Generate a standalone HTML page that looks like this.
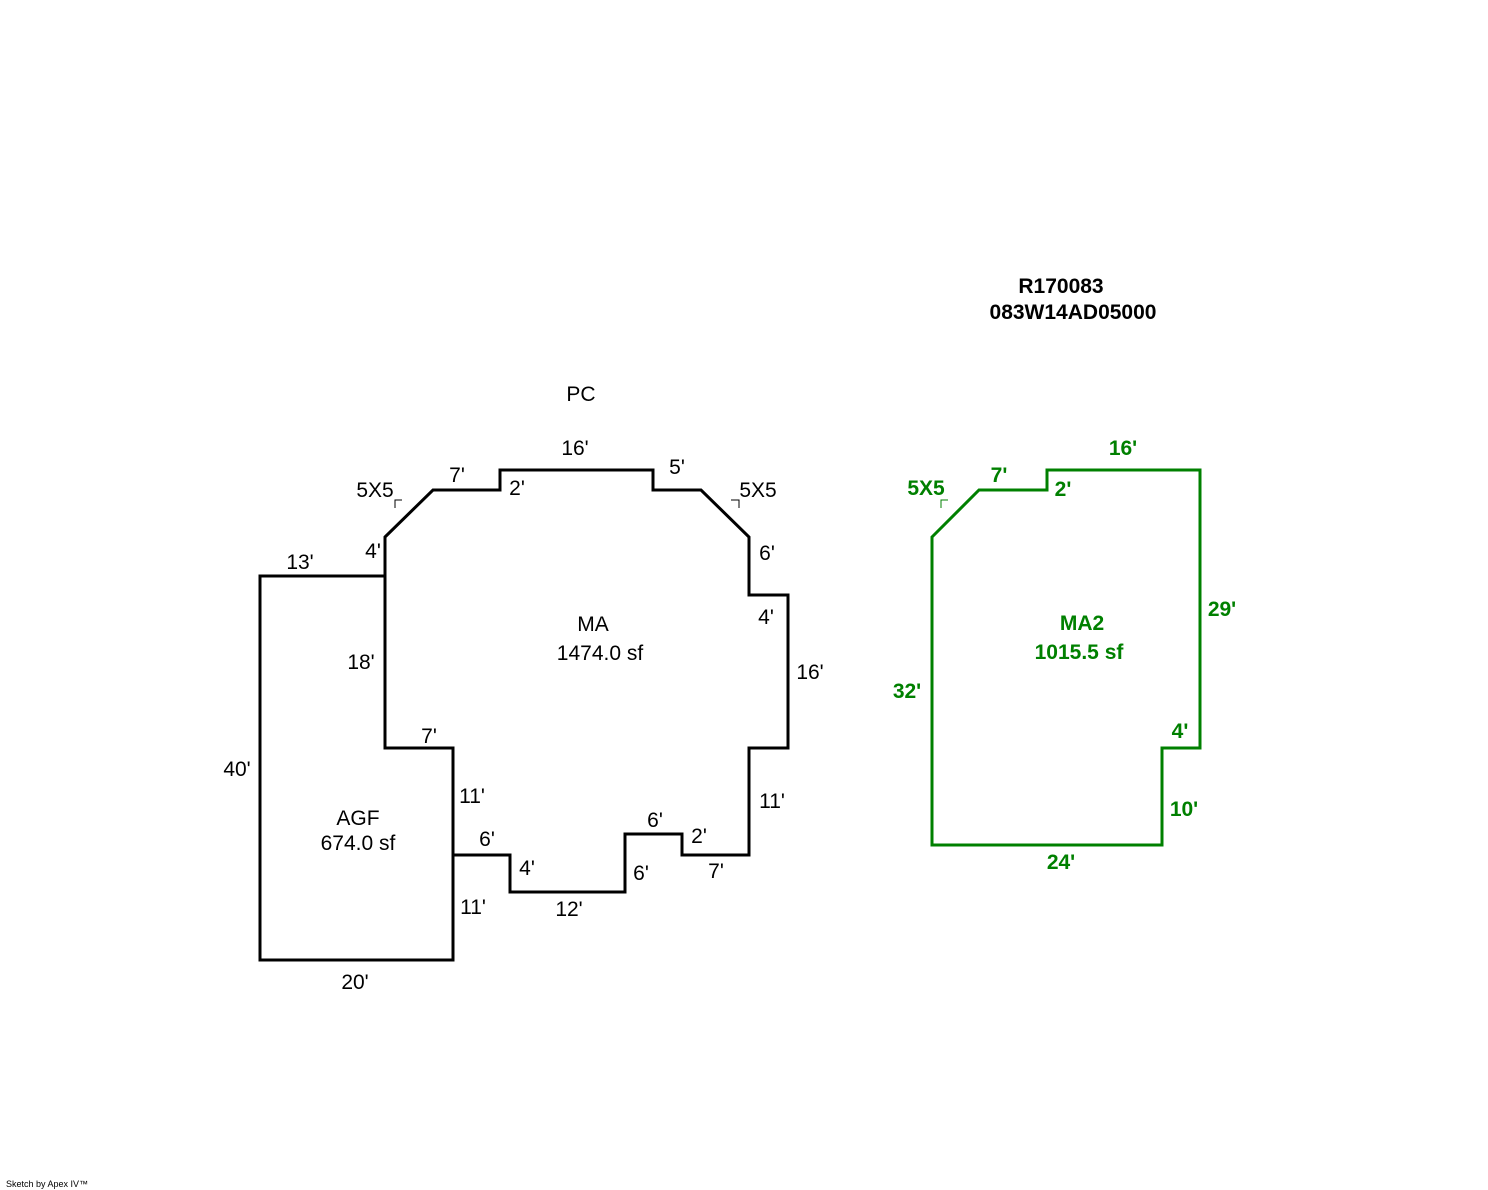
<!DOCTYPE html>
<html><head><meta charset="utf-8"><style>
html,body{margin:0;padding:0;background:#fff;}
svg{display:block;}
text{font-family:"Liberation Sans",Arial,sans-serif;font-size:21px;}
.g{fill:#008000;font-weight:bold;}
</style></head><body>
<svg width="1488" height="1190" viewBox="0 0 1488 1190" xmlns="http://www.w3.org/2000/svg">
<g fill="none" stroke="#000" stroke-width="3">
<polygon points="385,537 433,490 500,490 500,470 653,470 653,490 701,490 749,537 749,595 788,595 788,748 749,748 749,855 682,855 682,834 625,834 625,892 510,892 510,855 453,855 453,748 385,748"/>
<polygon points="260,576 385,576 385,748 453,748 453,960 260,960"/>
</g>
<g fill="none" stroke="#000" stroke-width="1">
<polyline points="395,508 395,500 402,500"/>
<polyline points="731,500 739,500 739,508"/>
</g>
<polygon points="932,537 979,490 1047,490 1047,470 1200,470 1200,748 1162,748 1162,845 932,845" fill="none" stroke="#008000" stroke-width="3"/>
<polyline points="941,508 941,500 948,500" fill="none" stroke="#008000" stroke-width="1"/>
<g text-anchor="middle">
<text x="581" y="401">PC</text>
<text x="575" y="455">16'</text>
<text x="457" y="482">7'</text>
<text x="517" y="495">2'</text>
<text x="677" y="474">5'</text>
<text x="375" y="497">5X5</text>
<text x="758" y="497">5X5</text>
<text x="373" y="558">4'</text>
<text x="767" y="560">6'</text>
<text x="300" y="569">13'</text>
<text x="766" y="624">4'</text>
<text x="593" y="631">MA</text>
<text x="600" y="660">1474.0 sf</text>
<text x="361" y="669">18'</text>
<text x="810" y="679">16'</text>
<text x="429" y="743">7'</text>
<text x="237" y="776">40'</text>
<text x="472" y="803">11'</text>
<text x="772" y="808">11'</text>
<text x="358" y="825">AGF</text>
<text x="358" y="850">674.0 sf</text>
<text x="655" y="827">6'</text>
<text x="487" y="846">6'</text>
<text x="699" y="843">2'</text>
<text x="527" y="875">4'</text>
<text x="641" y="880">6'</text>
<text x="716" y="878">7'</text>
<text x="473" y="914">11'</text>
<text x="569" y="916">12'</text>
<text x="355" y="989">20'</text>
</g>
<g text-anchor="middle" class="g">
<text x="1061" y="293" style="fill:#000">R170083</text>
<text x="1073" y="319" style="fill:#000">083W14AD05000</text>
<text x="1123" y="455">16'</text>
<text x="999" y="482">7'</text>
<text x="1063" y="496">2'</text>
<text x="926" y="495">5X5</text>
<text x="1222" y="616">29'</text>
<text x="1082" y="630">MA2</text>
<text x="1079" y="659">1015.5 sf</text>
<text x="907" y="698">32'</text>
<text x="1180" y="738">4'</text>
<text x="1184" y="816">10'</text>
<text x="1061" y="869">24'</text>
</g>
<text x="6" y="1187" style="font-size:9px">Sketch by Apex IV™</text>
</svg>
</body></html>
